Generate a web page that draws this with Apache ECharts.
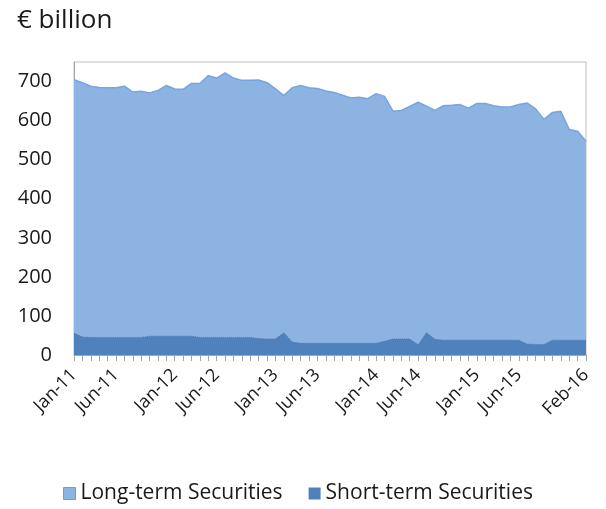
<!DOCTYPE html>
<html>
<head>
<meta charset="utf-8">
<script src="https://cdn.jsdelivr.net/npm/echarts@6/dist/echarts.min.js"></script>
<style>
  html, body { margin: 0; padding: 0; background: #fff; }
  #chart { width: 606px; height: 509px; }
</style>
</head>
<body>
<div id="chart"></div>
<script>
// months Jan-11 .. Feb-16
var monthNames = ['Jan', 'Feb', 'Mar', 'Apr', 'May', 'Jun', 'Jul', 'Aug', 'Sep', 'Oct', 'Nov', 'Dec']
var years = ['11', '12', '13', '14', '15', '16']
var categories = []
years.forEach(function (y) {
  monthNames.forEach(function (m) {
    if (categories.length < 62) categories.push(m + '-' + y)
  })
})
// only these months get a label on the axis
var shownLabels = ['Jan-11', 'Jun-11', 'Jan-12', 'Jun-12', 'Jan-13', 'Jun-13',
  'Jan-14', 'Jun-14', 'Jan-15', 'Jun-15', 'Feb-16']

// (€ billion)
var longTerm = [
  705, 697, 688, 685, 684, 684, 688, 673, 675, 671, 677, 690,
  681, 680, 695, 695, 715, 709, 722, 709, 703, 703, 704, 697,
  681, 664, 684, 690, 684, 682, 676, 672, 665, 658, 660, 656,
  669, 662, 624, 626, 636, 647, 637, 626, 638, 639, 641, 632,
  644, 644, 638, 635, 635, 641, 645, 630, 603, 621, 624, 577,
  573, 547
]
var shortTerm = [
  56, 46, 45, 45, 45, 45, 45, 45, 45, 48, 48, 48,
  48, 48, 48, 45, 45, 45, 45, 45, 45, 45, 42, 41,
  41, 57, 33, 30, 30, 30, 30, 30, 30, 30, 30, 30,
  30, 35, 41, 41, 41, 26, 57, 40, 38, 38, 38, 38,
  38, 38, 38, 38, 38, 38, 28, 27, 27, 38, 38, 38,
  38, 38
]
var yTicks = [0, 100, 200, 300, 400, 500, 600, 700]

var lightBlue = '#8db3e2'
var darkBlue = '#4f81bd'
var font = '"Open Sans", sans-serif'
var textColor = '#1a1a1a'

var chart = echarts.init(document.getElementById('chart'), null, { renderer: 'canvas' })
chart.setOption({
  animation: false,
  title: {
    text: '€ billion',
    left: 12,
    top: 3,
    textStyle: { fontFamily: font, fontSize: 26, fontWeight: 'normal', color: textColor }
  },
  grid: {
    left: 74,
    right: 20,
    top: 62,
    bottom: 154,
    show: true,
    borderColor: '#bfbfbf',
    borderWidth: 1,
    backgroundColor: 'transparent'
  },
  legend: {
    bottom: 0,
    left: 58,
    itemWidth: 12,
    itemHeight: 12,
    itemGap: 26,
    icon: 'rect',
    textStyle: { fontFamily: font, fontSize: 21, color: textColor },
    data: [
      { name: 'Long-term Securities', itemStyle: { color: lightBlue, borderColor: '#6f9ad3', borderWidth: 1 } },
      { name: 'Short-term Securities', itemStyle: { color: darkBlue, borderColor: darkBlue } }
    ]
  },
  xAxis: {
    type: 'category',
    data: categories,
    boundaryGap: false,
    axisLine: { lineStyle: { color: '#a6a6a6', width: 1 } },
    axisTick: { show: true, interval: 0, length: 6, lineStyle: { color: '#a6a6a6' } },
    axisLabel: {
      rotate: 45,
      margin: 17,
      interval: function (i, v) { return shownLabels.indexOf(v) >= 0 },
      fontFamily: font,
      fontSize: 18,
      color: textColor
    },
    splitLine: { show: false }
  },
  yAxis: {
    type: 'value',
    min: 0,
    max: 750,
    interval: 100,
    axisLine: { show: true, lineStyle: { color: '#a6a6a6' } },
    axisTick: { show: false },
    splitLine: { show: false },
    axisLabel: {
      margin: 22,
      showMaxLabel: false,
      fontFamily: font,
      fontSize: 20,
      color: textColor,
      formatter: function (v) { return yTicks.indexOf(v) >= 0 ? String(v) : '' }
    }
  },
  series: [
    {
      name: 'Long-term Securities',
      type: 'line',
      data: longTerm,
      symbol: 'none',
      itemStyle: { color: lightBlue },
      lineStyle: { color: '#79a5dc', width: 1.5 },
      areaStyle: { color: lightBlue, opacity: 1 }
    },
    {
      name: 'Short-term Securities',
      type: 'line',
      data: shortTerm,
      symbol: 'none',
      itemStyle: { color: darkBlue },
      lineStyle: { color: '#4a7bb7', width: 1, type: 'dotted' },
      areaStyle: { color: darkBlue, opacity: 1 }
    }
  ]
})
</script>
</body>
</html>
